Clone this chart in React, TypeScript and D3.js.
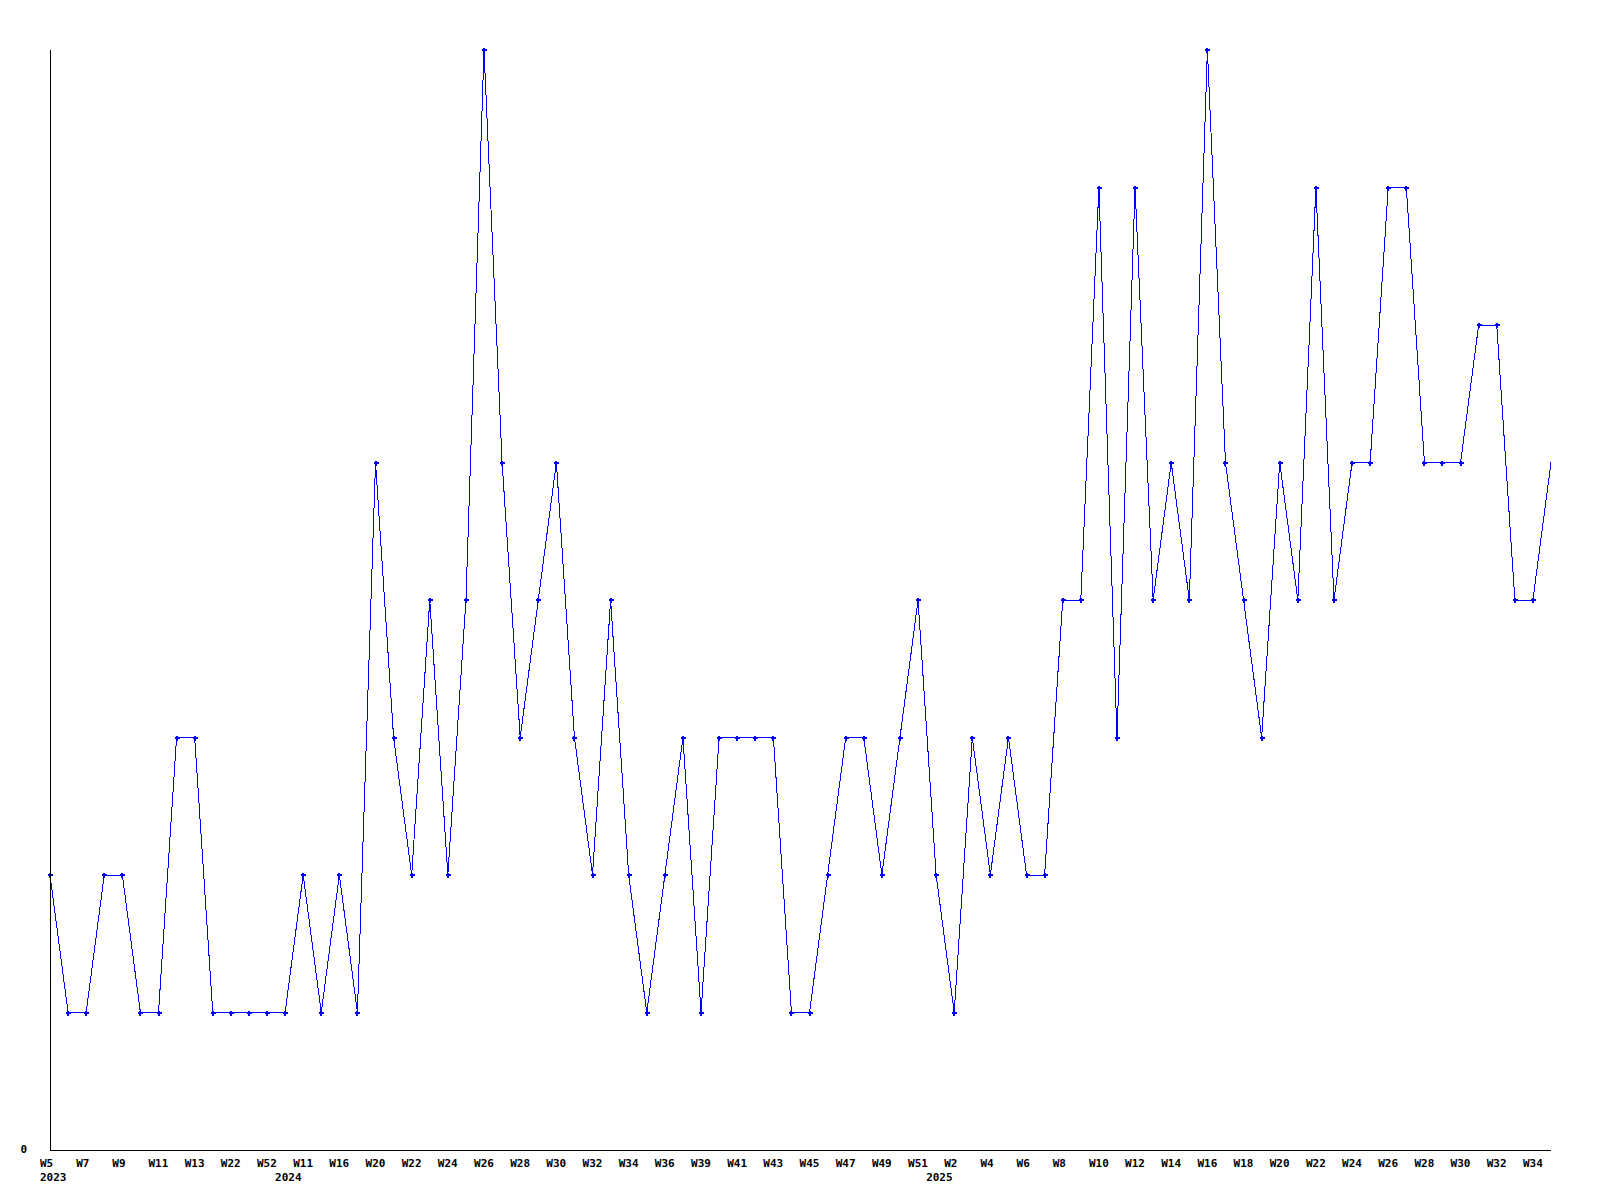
import React from "react";
import * as d3 from "d3";

const weeks: string[] = [
  "W5", "W6", "W7", "W8", "W9", "W10", "W11", "W12", "W13", "W17", "W22", "W40", "W52",
  "W5", "W11", "W13", "W16", "W18", "W20", "W21", "W22", "W23", "W24", "W25", "W26", "W27",
  "W28", "W29", "W30", "W31", "W32", "W33", "W34", "W35", "W36", "W38", "W39", "W40", "W41",
  "W42", "W43", "W44", "W45", "W46", "W47", "W48", "W49", "W50", "W51",
  "W1", "W2", "W3", "W4", "W5", "W6", "W7", "W8", "W9", "W10", "W11", "W12", "W13", "W14",
  "W15", "W16", "W17", "W18", "W19", "W20", "W21", "W22", "W23", "W24", "W25", "W26", "W27",
  "W28", "W29", "W30", "W31", "W32", "W33", "W34", "W35",
];

const years: string[] = ["2023", "2024", "2025"];
const yearStarts: number[] = [0, 13, 49];

const values: number[] = [
  2, 1, 1, 2, 2, 1, 1, 3, 3, 1, 1, 1, 1,
  1, 2, 1, 2, 1, 5, 3, 2, 4, 2, 4, 8, 5,
  3, 4, 5, 3, 2, 4, 2, 1, 2, 3, 1, 3, 3,
  3, 3, 1, 1, 2, 3, 3, 2, 3, 4,
  2, 1, 3, 2, 3, 2, 2, 4, 4, 7, 3, 7, 4, 5,
  4, 8, 5, 4, 3, 5, 4, 7, 4, 5, 5, 7, 7,
  5, 5, 5, 6, 6, 4, 4, 5,
];

const yTicks: number[] = [0];

export default function App() {
  const left = 50;
  const right = 1551;
  const top = 50;
  const bottom = 1150;

  const x = d3.scaleLinear().domain([0, values.length - 1]).range([left, right]);
  const y = d3.scaleLinear().domain([0, 8]).range([bottom, top]);

  const line = d3
    .line<number>()
    .x((_, i) => x(i))
    .y((d) => y(d));

  const font = "'DejaVu Sans Mono', monospace";

  return (
    <svg
      width={1600}
      height={1200}
      style={{ position: "absolute", left: 0, top: 0, background: "#fff" }}
    >
      <rect x={0} y={0} width={1600} height={1200} fill="#fff" />
      <path
        d={line(values) || ""}
        fill="none"
        stroke="#0000ff"
        strokeWidth={1}
        shapeRendering="crispEdges"
      />
      {values.slice(0, values.length - 1).map((v, i) => (
        <g key={i} transform={`translate(${Math.round(x(i))},${Math.round(y(v))})`}>
          <rect x={-2.5} y={-1} width={5} height={2} fill="#0000ff" shapeRendering="crispEdges" />
          <rect x={-1} y={-2.5} width={2} height={5} fill="#0000ff" shapeRendering="crispEdges" />
        </g>
      ))}
      <line x1={left + 0.5} y1={top} x2={left + 0.5} y2={bottom + 0.5} stroke="#000" strokeWidth={1} shapeRendering="crispEdges" />
      <line x1={left} y1={bottom + 0.5} x2={right} y2={bottom + 0.5} stroke="#000" strokeWidth={1} shapeRendering="crispEdges" />
      {yTicks.map((t) => (
        <text
          key={t}
          x={27}
          y={y(t) + 3}
          textAnchor="end"
          fontFamily={font}
          fontWeight="bold"
          fontSize={11}
          fill="#000"
        >
          {t}
        </text>
      ))}
      {weeks.map((w, i) =>
        i % 2 === 0 ? (
          <text
            key={i}
            x={x(i) - 10}
            y={1167}
            fontFamily={font}
            fontWeight="bold"
            fontSize={11}
            fill="#000"
          >
            {w}
          </text>
        ) : null
      )}
      {years.map((yr, k) => (
        <text
          key={yr}
          x={x(yearStarts[k]) - 10}
          y={1181}
          fontFamily={font}
          fontWeight="bold"
          fontSize={11}
          fill="#000"
        >
          {yr}
        </text>
      ))}
    </svg>
  );
}
